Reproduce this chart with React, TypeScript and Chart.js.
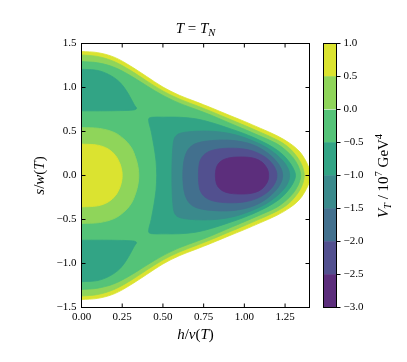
import React, { useEffect, useRef } from 'react';
import { Chart, registerables } from 'chart.js';

Chart.register(...registerables);

const FONT = "'Liberation Serif', 'DejaVu Serif', serif";

// Contour levels (colour bar) and band colours (viridis-like, bottom band first)
const levels = [-3, -2.5, -2, -1.5, -1, -0.5, 0, 0.5, 1];
const bandColors = ['#5c2e7c', '#52508f', '#42708e', '#3a8a8c', '#32a485', '#54c378', '#8fd55a', '#dbe330'];

// Axis ticks
const xTickStep = 0.25;
const yTickStep = 0.5;
const cbTickStep = 0.5;

// Upper halves of the contour lines as [h/v(T), s/w(T)]
// V = 1.0 (outer edge of the filled region)
const c100: number[][] = [
  [0, 1.41], [0.1, 1.396], [0.2, 1.345], [0.3, 1.245], [0.4, 1.125], [0.5, 1.005], [0.6, 0.912],
  [0.7, 0.84], [0.8, 0.767], [0.9, 0.69], [1.0, 0.615], [1.1, 0.535], [1.2, 0.452], [1.28, 0.365],
  [1.335, 0.28], [1.37, 0.19], [1.395, 0.095], [1.41, 0],
];
// V = 0.5 (outer)
const c050: number[][] = [
  [0, 1.37], [0.1, 1.352], [0.2, 1.295], [0.3, 1.195], [0.4, 1.075], [0.5, 0.96], [0.6, 0.87],
  [0.7, 0.798], [0.8, 0.725], [0.9, 0.647], [1.0, 0.57], [1.1, 0.49], [1.2, 0.405], [1.265, 0.33],
  [1.31, 0.245], [1.345, 0.15], [1.362, 0.07], [1.368, 0],
];
// V = 0 (outer)
const c000: number[][] = [
  [0, 1.295], [0.1, 1.28], [0.2, 1.23], [0.3, 1.135], [0.4, 1.02], [0.5, 0.91], [0.6, 0.822],
  [0.7, 0.753], [0.8, 0.682], [0.9, 0.603], [1.0, 0.525], [1.1, 0.445], [1.2, 0.36], [1.255, 0.285],
  [1.3, 0.2], [1.33, 0.11], [1.343, 0.04], [1.346, 0],
];
// V = 0 around the origin
const cRing: number[][] = [
  [0, 0.545], [0.11, 0.535], [0.2, 0.49], [0.26, 0.415], [0.305, 0.32], [0.333, 0.2], [0.347, 0.1], [0.352, 0],
];
// V = 0.5 around the origin
const cCore: number[][] = [
  [0, 0.357], [0.1, 0.345], [0.165, 0.3], [0.21, 0.225], [0.237, 0.13], [0.248, 0.05], [0.25, 0],
];
// V = -0.5 lobe near s = +1 (closed along h = 0)
const cLobe: number[][] = [
  [0, 1.207], [0.1, 1.193], [0.175, 1.14], [0.235, 1.06], [0.275, 0.965], [0.305, 0.87], [0.325, 0.8],
  [0.338, 0.762], [0.32, 0.745], [0.25, 0.738], [0.12, 0.735], [0, 0.735],
];
// V = -0.5 around the minimum
const cM05: number[][] = [
  [0.462, 0], [0.458, 0.16], [0.445, 0.33], [0.428, 0.5], [0.412, 0.64], [0.43, 0.661], [0.5, 0.663],
  [0.6, 0.662], [0.7, 0.645], [0.8, 0.6], [0.9, 0.54], [1.0, 0.475], [1.1, 0.395], [1.18, 0.315],
  [1.24, 0.23], [1.285, 0.13], [1.308, 0.05], [1.314, 0],
];
// V = -1.0
const cM10: number[][] = [
  [0.555, 0], [0.556, 0.15], [0.561, 0.32], [0.571, 0.425], [0.595, 0.472], [0.65, 0.495], [0.75, 0.505],
  [0.85, 0.495], [0.95, 0.46], [1.05, 0.395], [1.13, 0.325], [1.19, 0.248], [1.24, 0.16], [1.268, 0.08], [1.278, 0],
];
// V = -1.5
const cM15: number[][] = [
  [0.622, 0], [0.625, 0.11], [0.636, 0.22], [0.662, 0.312], [0.71, 0.368], [0.8, 0.397], [0.9, 0.402],
  [1.0, 0.377], [1.08, 0.327], [1.145, 0.252], [1.195, 0.165], [1.225, 0.08], [1.235, 0],
];
// V = -2.0
const cM20: number[][] = [
  [0.718, 0], [0.72, 0.09], [0.73, 0.175], [0.758, 0.245], [0.81, 0.29], [0.9, 0.31], [1.0, 0.3],
  [1.075, 0.262], [1.135, 0.2], [1.175, 0.125], [1.196, 0.05], [1.2, 0],
];
// V = -2.5
const cM25: number[][] = [
  [0.822, 0], [0.825, 0.065], [0.837, 0.125], [0.864, 0.172], [0.905, 0.2], [0.96, 0.21], [1.02, 0.208],
  [1.07, 0.19], [1.108, 0.152], [1.133, 0.1], [1.146, 0.05], [1.149, 0],
];

// upper half -> closed curve (the plot is symmetric in s)
const mirror = (up: number[][]) => up.concat(up.slice(0, -1).reverse().map(([h, s]) => [h, -s]));
const flip = (pts: number[][]) => pts.map(([h, s]) => [h, -s]);

// painting order (outermost first) with band index
const layers: { pts: number[][]; band: number }[] = [
  { pts: mirror(c100), band: 7 },
  { pts: mirror(c050), band: 6 },
  { pts: mirror(c000), band: 5 },
  { pts: mirror(cRing), band: 6 },
  { pts: mirror(cCore), band: 7 },
  { pts: cLobe, band: 4 },
  { pts: flip(cLobe), band: 4 },
  { pts: mirror(cM05), band: 4 },
  { pts: mirror(cM10), band: 3 },
  { pts: mirror(cM15), band: 2 },
  { pts: mirror(cM20), band: 1 },
  { pts: mirror(cM25), band: 0 },
];

const fmt = (v: number, d: number) => {
  if (Math.abs(v) < 1e-9) v = 0;
  return (v < 0 ? '\u2212' : '') + Math.abs(v).toFixed(d);
};

type Run = { t: string; it?: boolean; sz?: number; dy?: number };
function drawRuns(ctx: CanvasRenderingContext2D, runs: Run[], cx: number, cy: number, rot: number) {
  ctx.save();
  ctx.translate(cx, cy);
  ctx.rotate(rot);
  ctx.fillStyle = '#000';
  ctx.textBaseline = 'alphabetic';
  ctx.textAlign = 'left';
  const fonts = runs.map((r) => `${r.it ? 'italic ' : ''}${r.sz ?? 15}px ${FONT}`);
  let w = 0;
  const ws = runs.map((r, i) => {
    ctx.font = fonts[i];
    const m = ctx.measureText(r.t).width;
    w += m;
    return m;
  });
  let x = -w / 2;
  runs.forEach((r, i) => {
    ctx.font = fonts[i];
    ctx.fillText(r.t, x, r.dy ?? 0);
    x += ws[i];
  });
  ctx.restore();
}

const mainDecor = {
  id: 'mainDecor',
  afterDatasetsDraw(chart: any) {
    const { ctx, chartArea: a, scales } = chart;
    const L = 4;
    ctx.save();
    ctx.strokeStyle = '#000';
    ctx.lineWidth = 1;
    ctx.beginPath();
    for (const t of scales.x.ticks) {
      const px = scales.x.getPixelForValue(t.value);
      ctx.moveTo(px, a.bottom); ctx.lineTo(px, a.bottom - L);
      ctx.moveTo(px, a.top); ctx.lineTo(px, a.top + L);
    }
    for (const t of scales.y.ticks) {
      const py = scales.y.getPixelForValue(t.value);
      ctx.moveTo(a.left, py); ctx.lineTo(a.left + L, py);
      ctx.moveTo(a.right, py); ctx.lineTo(a.right - L, py);
    }
    ctx.stroke();
    ctx.strokeRect(a.left, a.top, a.right - a.left, a.bottom - a.top);
    ctx.restore();
  },
  afterDraw(chart: any) {
    const { ctx, chartArea: a } = chart;
    const cx = (a.left + a.right) / 2;
    drawRuns(ctx, [
      { t: 'T', it: true }, { t: ' = ' }, { t: 'T', it: true }, { t: 'N', it: true, sz: 10.5, dy: 3 },
    ], cx, 33, 0);
    drawRuns(ctx, [
      { t: 'h', it: true }, { t: '/' }, { t: 'v', it: true }, { t: '(' }, { t: 'T', it: true }, { t: ')' },
    ], cx, 338.5, 0);
    drawRuns(ctx, [
      { t: 's', it: true }, { t: '/' }, { t: 'w', it: true }, { t: '(' }, { t: 'T', it: true }, { t: ')' },
    ], 43.5, (a.top + a.bottom) / 2, -Math.PI / 2);
  },
};

const cbDecor = {
  id: 'cbDecor',
  afterDraw(chart: any) {
    const { ctx, chartArea: a } = chart;
    ctx.save();
    ctx.strokeStyle = '#000';
    ctx.lineWidth = 1;
    ctx.strokeRect(a.left, a.top, a.right - a.left, a.bottom - a.top);
    ctx.restore();
    drawRuns(ctx, [
      { t: 'V', it: true }, { t: 'T', it: true, sz: 10.5, dy: 3 }, { t: ' / 10' }, { t: '7', sz: 10.5, dy: -6 },
      { t: ' GeV' }, { t: '4', sz: 10.5, dy: -6 },
    ], 388, 176, -Math.PI / 2);
  },
};

export default function App() {
  const mainRef = useRef<HTMLCanvasElement>(null);
  const cbRef = useRef<HTMLCanvasElement>(null);

  useEffect(() => {
    const tickFont = { family: FONT, size: 11 };
    const main = new Chart(mainRef.current!, {
      type: 'scatter',
      data: {
        datasets: layers.map((l, i) => ({
          data: l.pts.map(([h, s]) => ({ x: h, y: s })),
          showLine: true,
          fill: 'shape',
          backgroundColor: bandColors[l.band],
          borderColor: bandColors[l.band],
          borderWidth: 0.8,
          pointRadius: 0,
          pointHoverRadius: 0,
          tension: 0.35,
          order: 100 - i,
        })) as any,
      },
      options: {
        animation: false,
        responsive: false,
        devicePixelRatio: 1,
        events: [],
        layout: { padding: { left: 0, top: 43.5, right: 97.5, bottom: 0 } },
        plugins: { legend: { display: false }, tooltip: { enabled: false }, title: { display: false } },
        scales: {
          x: {
            type: 'linear',
            min: 0,
            max: 1.4,
            grid: { display: false, drawTicks: false },
            border: { display: false },
            ticks: {
              stepSize: xTickStep,
              includeBounds: false,
              autoSkip: false,
              maxRotation: 0,
              padding: 3,
              color: '#000',
              font: tickFont,
              callback: (v: any) => fmt(Number(v), 2),
            },
            afterFit: (s: any) => { s.height = 54.5; },
          },
          y: {
            type: 'linear',
            min: -1.5,
            max: 1.5,
            grid: { display: false, drawTicks: false },
            border: { display: false },
            ticks: {
              stepSize: yTickStep,
              autoSkip: false,
              padding: 5,
              color: '#000',
              font: tickFont,
              callback: (v: any) => fmt(Number(v), 1),
            },
            afterFit: (s: any) => { s.width = 81.5; },
          },
        },
      },
      plugins: [mainDecor],
    });

    const cb = new Chart(cbRef.current!, {
      type: 'bar',
      data: {
        labels: [''],
        datasets: bandColors.map((c, i) => ({
          data: [[levels[i], levels[i + 1]]],
          backgroundColor: c,
          borderWidth: 0,
          barPercentage: 1,
          categoryPercentage: 1,
          grouped: false,
        })) as any,
      },
      options: {
        animation: false,
        responsive: false,
        devicePixelRatio: 1,
        events: [],
        layout: { padding: { left: 323.5, top: 43.5, right: 30.5, bottom: 54.5 } },
        plugins: { legend: { display: false }, tooltip: { enabled: false } },
        scales: {
          x: { display: false },
          y: {
            position: 'right',
            min: levels[0],
            max: levels[levels.length - 1],
            grid: { drawOnChartArea: false, drawTicks: true, tickLength: 4, color: '#000' },
            border: { display: false },
            ticks: {
              stepSize: cbTickStep,
              autoSkip: false,
              padding: 3,
              color: '#000',
              font: tickFont,
              callback: (v: any) => fmt(Number(v), 1),
            },
            afterFit: (s: any) => { s.width = 40; },
          },
        },
      },
      plugins: [cbDecor],
    });

    return () => {
      main.destroy();
      cb.destroy();
    };
  }, []);

  return (
    <div style={{ position: 'fixed', left: 0, top: 0, width: 407, height: 362, background: '#fff' }}>
      <canvas ref={mainRef} width={407} height={362} style={{ position: 'absolute', left: 0, top: 0 }} />
      <canvas ref={cbRef} width={407} height={362} style={{ position: 'absolute', left: 0, top: 0 }} />
    </div>
  );
}
